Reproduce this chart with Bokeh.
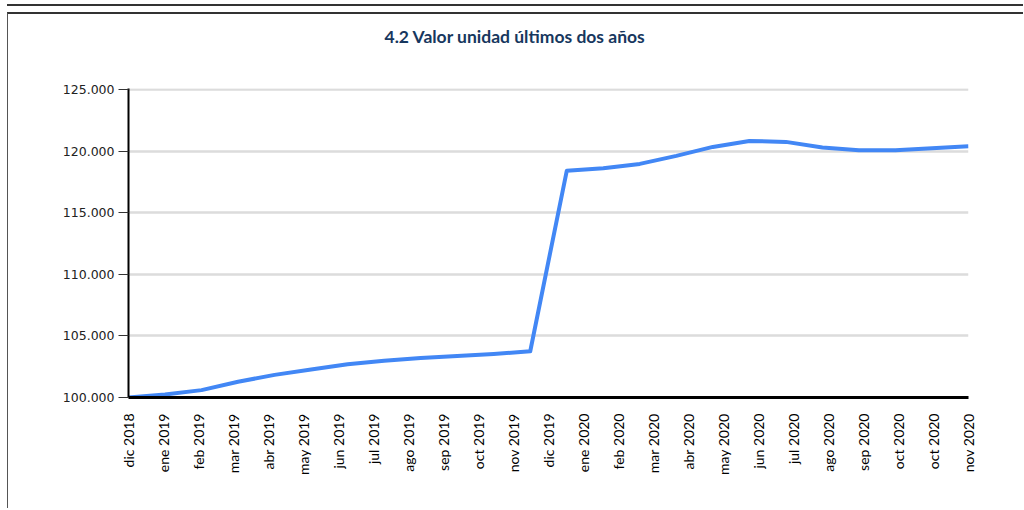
import math
from bokeh.plotting import figure
from bokeh.models import FixedTicker, Range1d, ColumnDataSource, Title
from bokeh.embed import file_html
from bokeh.resources import INLINE

# ---------------- data ----------------
title_text = "4.2 Valor unidad últimos dos años"

month_labels = [
    "dic 2018", "ene 2019", "feb 2019", "mar 2019", "abr 2019", "may 2019",
    "jun 2019", "jul 2019", "ago 2019", "sep 2019", "oct 2019", "nov 2019",
    "dic 2019", "ene 2020", "feb 2020", "mar 2020", "abr 2020", "may 2020",
    "jun 2020", "jul 2020", "ago 2020", "sep 2020", "oct 2020", "oct 2020",
    "nov 2020",
]

unit_values = [
    100.00, 100.25, 100.60, 101.28, 101.84, 102.27, 102.70, 102.98,
    103.22, 103.38, 103.54, 103.76, 118.43, 118.64, 118.99, 119.64,
    120.37, 120.86, 120.78, 120.32, 120.10, 120.10, 120.27, 120.43,
]

y_tick_values = [100, 105, 110, 115, 120, 125]
y_tick_labels = ["100.000", "105.000", "110.000", "115.000", "120.000", "125.000"]

# ---------------- figure ----------------
n_pts = len(unit_values)
n_lab = len(month_labels)
idx = list(range(n_pts))
source = ColumnDataSource(data=dict(x=idx, y=unit_values))

p = figure(
    width=1016, height=496,
    output_backend="svg", toolbar_location=None,
    x_range=Range1d(0, n_pts - 1), y_range=Range1d(y_tick_values[0], y_tick_values[-1] + 0.12),
    min_border_left=120, min_border_right=56, min_border_top=74, min_border_bottom=113,
)
p.margin = (12, 0, 0, 7)
p.styles = {
    "border-top": "2px solid #333333",
    "border-left": "1px solid #555555",
    "box-shadow": "0 -6px 0 0 #ffffff, 0 -8px 0 0 #333333",
}
p.outline_line_color = None
p.background_fill_color = "white"
p.border_fill_color = "white"

# title: an empty spacer title next to the frame, then the real title above it
spacer = Title(text=" ", text_font_size="10px", standoff=24)
p.add_layout(spacer, "above")
main_title = Title(
    text=title_text, align="left", offset=256, standoff=10,
    text_font="Lato", text_font_style="bold", text_font_size="17.5px",
    text_color="#17375E",
)
p.add_layout(main_title, "above")

# line
p.line("x", "y", source=source, line_color="#4287F5", line_width=4, line_join="round")

# x axis
tick_pos = [i * (n_pts - 1) / (n_lab - 1) for i in range(n_lab)]
p.xaxis.ticker = FixedTicker(ticks=tick_pos)
p.xaxis.major_label_overrides = {t: lab for t, lab in zip(tick_pos, month_labels)}
p.xaxis.major_label_orientation = math.pi / 2
p.xaxis.major_label_text_font = "Lato"
p.xaxis.major_label_text_font_size = "14px"
p.xaxis.major_label_text_color = "#000000"
p.xaxis.major_label_standoff = 10
p.xaxis.major_tick_line_color = None
p.xaxis.minor_tick_line_color = None
p.xaxis.axis_line_color = "#000000"
p.xaxis.axis_line_width = 3

# y axis
p.yaxis.ticker = FixedTicker(ticks=y_tick_values)
p.yaxis.major_label_overrides = {v: lab for v, lab in zip(y_tick_values, y_tick_labels)}
p.yaxis.major_label_text_font = "DejaVu Sans"
p.yaxis.major_label_text_font_size = "12.5px"
p.yaxis.major_label_text_color = "#222222"
p.yaxis.major_label_standoff = 4
p.yaxis.major_tick_out = 10
p.yaxis.major_tick_in = 0
p.yaxis.major_tick_line_color = "#333333"
p.yaxis.major_tick_line_width = 1
p.yaxis.minor_tick_line_color = None
p.yaxis.axis_line_color = "#000000"
p.yaxis.axis_line_width = 2

# grid
p.xgrid.grid_line_color = None
p.ygrid.grid_line_color = "#DCDCDC"
p.ygrid.grid_line_width = 2.5

with open("out.html", "w") as f:
    f.write(file_html(p, INLINE))
